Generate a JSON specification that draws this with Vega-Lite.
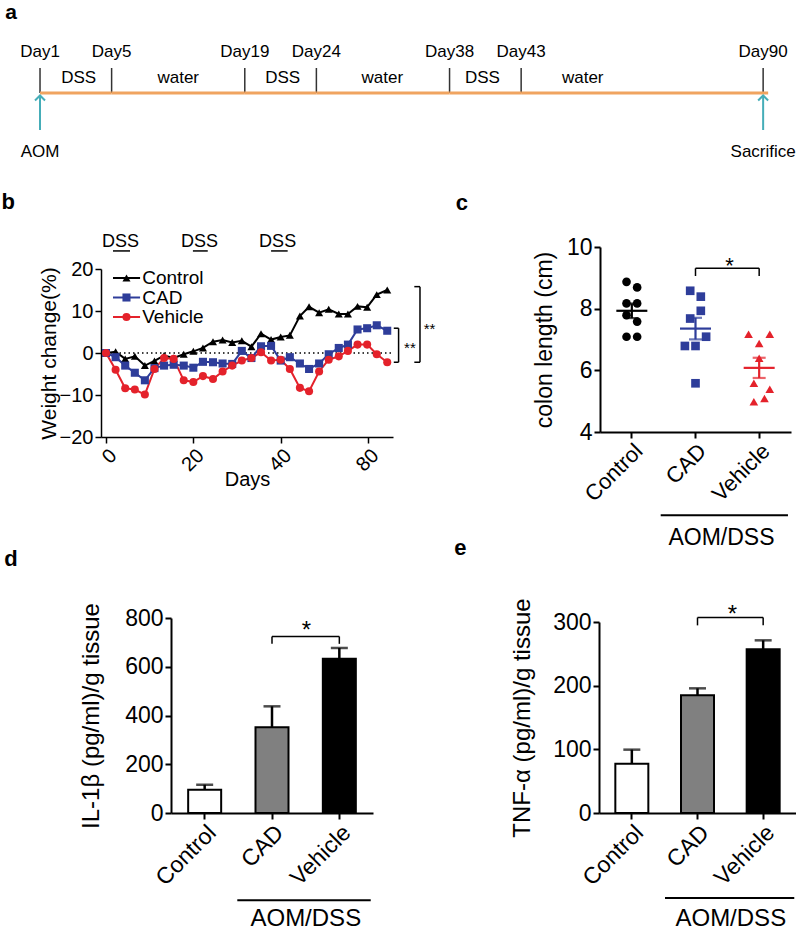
{
  "$schema": "https://vega.github.io/schema/vega-lite/v6.json",
  "padding": 0,
  "background": "white",
  "config": {
    "font": "Liberation Sans",
    "view": {"stroke": null},
    "axis": {"domainColor": "black", "tickColor": "black", "labelColor": "black", "titleColor": "black", "titleFontWeight": "normal", "grid": false, "domainWidth": 2, "tickWidth": 2, "tickSize": 6, "labelPadding": 2}
  },
  "datasets": {
    "timeline_days": [
      {"day": "Day1", "pos": 0}, {"day": "Day5", "pos": 1}, {"day": "Day19", "pos": 2.86}, {"day": "Day24", "pos": 3.86},
      {"day": "Day38", "pos": 5.72}, {"day": "Day43", "pos": 6.72}, {"day": "Day90", "pos": 10.1}
    ],
    "timeline_phases": [
      {"phase": "DSS", "from": 0, "to": 1, "mid": 0.54},
      {"phase": "water", "from": 1, "to": 2.86, "mid": 1.93},
      {"phase": "DSS", "from": 2.86, "to": 3.86, "mid": 3.39},
      {"phase": "water", "from": 3.86, "to": 5.72, "mid": 4.78},
      {"phase": "DSS", "from": 5.72, "to": 6.72, "mid": 6.18},
      {"phase": "water", "from": 6.72, "to": 10.17, "mid": 7.58}
    ],
    "timeline_events": [{"event": "AOM", "pos": 0}, {"event": "Sacrifice", "pos": 10.1}],
    "groups": [{"group": "Control"}, {"group": "CAD"}, {"group": "Vehicle"}],
    "weight": [
      {"day": 0, "Control": 0, "CAD": 0, "Vehicle": 0},
      {"day": 2.2, "Control": 0.3, "CAD": -1.0, "Vehicle": -4.0},
      {"day": 4.4, "Control": -1.4, "CAD": -3.0, "Vehicle": -8.4},
      {"day": 6.6, "Control": -0.8, "CAD": -4.7, "Vehicle": -8.7},
      {"day": 8.9, "Control": -3.0, "CAD": -6.5, "Vehicle": -9.9},
      {"day": 11.1, "Control": -1.9, "CAD": -3.6, "Vehicle": -3.8},
      {"day": 13.3, "Control": -0.6, "CAD": -3.0, "Vehicle": -1.2},
      {"day": 15.5, "Control": -1.2, "CAD": -2.8, "Vehicle": -1.4},
      {"day": 17.8, "Control": -0.3, "CAD": -3.0, "Vehicle": -6.5},
      {"day": 20.0, "Control": 0.4, "CAD": -3.5, "Vehicle": -6.9},
      {"day": 22.2, "Control": 1.2, "CAD": -2.1, "Vehicle": -5.5},
      {"day": 24.5, "Control": 2.7, "CAD": -2.2, "Vehicle": -6.2},
      {"day": 26.7, "Control": 3.1, "CAD": -2.5, "Vehicle": -4.4},
      {"day": 28.9, "Control": 2.5, "CAD": -2.6, "Vehicle": -3.0},
      {"day": 31.1, "Control": 2.9, "CAD": 0.5, "Vehicle": -1.8},
      {"day": 33.3, "Control": 1.5, "CAD": -1.2, "Vehicle": -1.2},
      {"day": 35.5, "Control": 4.6, "CAD": 1.6, "Vehicle": 0.2},
      {"day": 37.8, "Control": 3.2, "CAD": 1.7, "Vehicle": -1.8},
      {"day": 40.0, "Control": 3.8, "CAD": -1.8, "Vehicle": -1.6},
      {"day": 42.1, "Control": 4.2, "CAD": -1.0, "Vehicle": -3.8},
      {"day": 44.4, "Control": 8.8, "CAD": -2.5, "Vehicle": -8.3},
      {"day": 46.5, "Control": 11.0, "CAD": -3.8, "Vehicle": -9.1},
      {"day": 48.8, "Control": 9.6, "CAD": -2.5, "Vehicle": -4.4},
      {"day": 51.0, "Control": 10.4, "CAD": -0.3, "Vehicle": -1.6},
      {"day": 53.3, "Control": 9.3, "CAD": 1.2, "Vehicle": -0.8},
      {"day": 55.4, "Control": 9.3, "CAD": 2.0, "Vehicle": 0.5},
      {"day": 57.6, "Control": 11.1, "CAD": 5.6, "Vehicle": 2.0},
      {"day": 59.8, "Control": 10.9, "CAD": 5.9, "Vehicle": 2.0},
      {"day": 62.0, "Control": 13.9, "CAD": 6.6, "Vehicle": -0.3},
      {"day": 64.4, "Control": 15.0, "CAD": 5.3, "Vehicle": -2.2}
    ],
    "dss_periods": [
      {"label": "DSS", "start": 1.6, "end": 5.5, "mid": 3.3},
      {"label": "DSS", "start": 19.9, "end": 23.3, "mid": 21.4},
      {"label": "DSS", "start": 37.8, "end": 41.6, "mid": 39.3}
    ],
    "colon": [
      {"group": "Control", "length": 8.87, "slot": -1}, {"group": "Control", "length": 8.69, "slot": 1},
      {"group": "Control", "length": 8.17, "slot": -1}, {"group": "Control", "length": 8.17, "slot": 1},
      {"group": "Control", "length": 7.79, "slot": -1}, {"group": "Control", "length": 7.58, "slot": 1},
      {"group": "Control", "length": 7.09, "slot": -1}, {"group": "Control", "length": 7.09, "slot": 1},
      {"group": "CAD", "length": 8.58, "slot": -1}, {"group": "CAD", "length": 8.39, "slot": 1},
      {"group": "CAD", "length": 7.93, "slot": 1}, {"group": "CAD", "length": 7.68, "slot": -1},
      {"group": "CAD", "length": 7.09, "slot": 2}, {"group": "CAD", "length": 6.79, "slot": -2},
      {"group": "CAD", "length": 6.79, "slot": 0}, {"group": "CAD", "length": 5.58, "slot": 0},
      {"group": "Vehicle", "length": 7.17, "slot": -2}, {"group": "Vehicle", "length": 7.17, "slot": 2},
      {"group": "Vehicle", "length": 6.87, "slot": 0}, {"group": "Vehicle", "length": 6.39, "slot": 0},
      {"group": "Vehicle", "length": 5.58, "slot": -1}, {"group": "Vehicle", "length": 5.39, "slot": 2},
      {"group": "Vehicle", "length": 5.09, "slot": 1}, {"group": "Vehicle", "length": 4.98, "slot": -1}
    ],
    "il1b": [
      {"group": "Control", "mean": 95.7, "upper": 116},
      {"group": "CAD", "mean": 351.5, "upper": 437.6},
      {"group": "Vehicle", "mean": 633, "upper": 677}
    ],
    "tnf": [
      {"group": "Control", "mean": 77.5, "upper": 99.5},
      {"group": "CAD", "mean": 184.8, "upper": 195.8},
      {"group": "Vehicle", "mean": 257.1, "upper": 271.2}
    ]
  },
  "bounds": "flush",
  "spacing": 0,
  "resolve": {"scale": {"color": "independent", "shape": "independent", "fill": "independent"}},
  "vconcat": [
    {
      "width": 795,
      "height": 247,
      "layer": [
        {
          "data": {"name": "timeline_days"},
          "mark": {"type": "rule", "color": "#333333", "strokeWidth": 1.5},
          "encoding": {
            "x": {"field": "pos", "type": "quantitative", "scale": {"domain": [-0.559, 10.545], "nice": false, "zero": false}, "axis": null},
            "y": {"datum": 0, "type": "quantitative", "scale": {"domain": [-15.4, 9.3], "nice": false, "zero": false}, "axis": null},
            "y2": {"datum": 2.5}
          }
        },
        {
          "data": {"name": "timeline_phases"},
          "mark": {"type": "rule", "color": "#F0A460", "strokeWidth": 3},
          "encoding": {
            "x": {"field": "from", "type": "quantitative"},
            "x2": {"field": "to"},
            "y": {"datum": 0}
          }
        },
        {
          "data": {"name": "timeline_days"},
          "mark": {"type": "text", "fontSize": 17, "align": "center", "baseline": "alphabetic", "color": "black"},
          "encoding": {
            "x": {"field": "pos", "type": "quantitative"},
            "y": {"datum": 3.6},
            "text": {"field": "day"}
          }
        },
        {
          "data": {"name": "timeline_phases"},
          "mark": {"type": "text", "fontSize": 17, "align": "center", "baseline": "alphabetic", "color": "black"},
          "encoding": {
            "x": {"field": "mid", "type": "quantitative"},
            "y": {"datum": 0.97},
            "text": {"field": "phase"}
          }
        },
        {
          "data": {"name": "timeline_events"},
          "mark": {"type": "rule", "color": "#45ADB8", "strokeWidth": 2},
          "encoding": {
            "x": {"field": "pos", "type": "quantitative"},
            "y": {"datum": -3.7},
            "y2": {"datum": -0.3}
          }
        },
        {
          "data": {"name": "timeline_events"},
          "mark": {"type": "point", "shape": "M-1,1L0,0L1,1", "filled": false, "size": 100, "strokeWidth": 2, "color": "#45ADB8", "opacity": 1},
          "encoding": {
            "x": {"field": "pos", "type": "quantitative"},
            "y": {"datum": -0.25}
          }
        },
        {
          "data": {"name": "timeline_events"},
          "mark": {"type": "text", "fontSize": 17, "align": "center", "baseline": "alphabetic", "color": "black"},
          "encoding": {
            "x": {"field": "pos", "type": "quantitative"},
            "y": {"datum": -6.4},
            "text": {"field": "event"}
          }
        },
        {
          "data": {"values": [{"letter": "a"}]},
          "mark": {"type": "text", "fontSize": 21, "fontWeight": "bold", "align": "center", "baseline": "alphabetic", "color": "black"},
          "encoding": {
            "x": {"datum": -0.405},
            "y": {"datum": 7.4},
            "text": {"field": "letter"}
          }
        }
      ]
    },
    {
      "bounds": "flush",
      "spacing": 0,
      "resolve": {"scale": {"color": "independent", "shape": "independent", "fill": "independent"}},
      "hconcat": [
        {"data": {"values": []}, "mark": "point", "width": 101, "height": 1},
        {
          "bounds": "flush",
          "spacing": 0,
          "resolve": {"scale": {"color": "independent", "shape": "independent", "fill": "independent"}},
          "vconcat": [
            {"data": {"values": []}, "mark": "point", "width": 1, "height": 22},
            {
              "width": 292,
              "height": 168,
              "resolve": {"scale": {"y": "independent"}, "axis": {"y": "independent"}},
              "layer": [
                {
                  "layer": [
                    {
                      "data": {"values": [{"ref": 0}]},
                      "mark": {"type": "rule", "color": "black", "strokeWidth": 1.5, "strokeDash": [1.5, 3]},
                      "encoding": {
                        "x": {"datum": 0},
                        "x2": {"datum": 65.4},
                        "y": {"field": "ref", "type": "quantitative"}
                      }
                    },
                    {
                      "data": {"name": "weight"},
                      "transform": [{"fold": ["Control", "CAD", "Vehicle"], "as": ["group", "change"]}],
                      "mark": {"type": "line", "strokeWidth": 2},
                      "encoding": {
                        "x": {
                          "field": "day", "type": "quantitative",
                          "scale": {"domain": [-1.145, 65.72], "nice": false, "zero": false},
                          "axis": {"title": "Days", "values": [0, 20, 40, 60], "labelExpr": "datum.value == 60 ? '80' : datum.label", "labelAngle": -45, "labelFontSize": 20, "titleFontSize": 20, "domainWidth": 1.5, "tickWidth": 1.5, "titlePadding": -5}
                        },
                        "y": {
                          "field": "change", "type": "quantitative",
                          "scale": {"domain": [-20, 20], "nice": false, "zero": false},
                          "axis": {"title": "Weight change(%)", "values": [-20, -10, 0, 10, 20], "labelFontSize": 20, "titleFontSize": 21, "domainWidth": 1.5, "tickWidth": 1.5, "titlePadding": 0}
                        },
                        "color": {"field": "group", "type": "nominal", "scale": {"domain": ["Control", "CAD", "Vehicle"], "range": ["#000000", "#2E3D9A", "#E4222B"]}, "legend": null}
                      }
                    },
                    {
                      "data": {"name": "weight"},
                      "transform": [{"fold": ["Control", "CAD", "Vehicle"], "as": ["group", "change"]}],
                      "mark": {"type": "point", "filled": true, "size": 65, "opacity": 1},
                      "encoding": {
                        "x": {"field": "day", "type": "quantitative"},
                        "y": {"field": "change", "type": "quantitative"},
                        "color": {"field": "group", "type": "nominal", "legend": null},
                        "shape": {"field": "group", "type": "nominal", "scale": {"domain": ["Control", "CAD", "Vehicle"], "range": ["triangle-up", "square", "circle"]}, "legend": null}
                      }
                    },
                    {
                      "data": {"name": "dss_periods"},
                      "mark": {"type": "text", "fontSize": 18, "align": "center", "baseline": "alphabetic", "color": "black"},
                      "encoding": {
                        "x": {"field": "mid", "type": "quantitative"},
                        "y": {"datum": 25.3},
                        "text": {"field": "label"}
                      }
                    },
                    {
                      "data": {"name": "dss_periods"},
                      "mark": {"type": "rule", "color": "black", "strokeWidth": 1.5},
                      "encoding": {
                        "x": {"field": "start", "type": "quantitative"},
                        "x2": {"field": "end"},
                        "y": {"datum": 24.3}
                      }
                    },
                    {
                      "data": {"values": [{"sig": "**"}]},
                      "mark": {"type": "rule", "color": "black", "strokeWidth": 1.5},
                      "encoding": {"x": {"datum": 71.9}, "y": {"datum": 15.8}, "y2": {"datum": -2.2}}
                    },
                    {
                      "data": {"values": [{"sig": "**"}]},
                      "mark": {"type": "rule", "color": "black", "strokeWidth": 1.5},
                      "encoding": {"x": {"datum": 70.6}, "x2": {"datum": 71.9}, "y": {"datum": 15.8}}
                    },
                    {
                      "data": {"values": [{"sig": "**"}]},
                      "mark": {"type": "rule", "color": "black", "strokeWidth": 1.5},
                      "encoding": {"x": {"datum": 70.6}, "x2": {"datum": 71.9}, "y": {"datum": -2.2}}
                    },
                    {
                      "data": {"values": [{"sig": "**"}]},
                      "mark": {"type": "rule", "color": "black", "strokeWidth": 1.5},
                      "encoding": {"x": {"datum": 67.0}, "y": {"datum": 5.9}, "y2": {"datum": -2.2}}
                    },
                    {
                      "data": {"values": [{"sig": "**"}]},
                      "mark": {"type": "rule", "color": "black", "strokeWidth": 1.5},
                      "encoding": {"x": {"datum": 65.9}, "x2": {"datum": 67.0}, "y": {"datum": 5.9}}
                    },
                    {
                      "data": {"values": [{"sig": "**"}]},
                      "mark": {"type": "rule", "color": "black", "strokeWidth": 1.5},
                      "encoding": {"x": {"datum": 65.9}, "x2": {"datum": 67.0}, "y": {"datum": -2.2}}
                    },
                    {
                      "data": {"values": [{"sig": "**"}]},
                      "mark": {"type": "text", "fontSize": 15, "align": "center", "baseline": "alphabetic", "color": "black"},
                      "encoding": {"x": {"datum": 69.6}, "y": {"datum": -0.07}, "text": {"field": "sig"}}
                    },
                    {
                      "data": {"values": [{"sig": "**"}]},
                      "mark": {"type": "text", "fontSize": 15, "align": "center", "baseline": "alphabetic", "color": "black"},
                      "encoding": {"x": {"datum": 74.1}, "y": {"datum": 4.45}, "text": {"field": "sig"}}
                    },
                    {
                      "data": {"values": [{"letter": "b"}]},
                      "mark": {"type": "text", "fontSize": 22, "fontWeight": "bold", "align": "center", "baseline": "alphabetic", "color": "black"},
                      "encoding": {"x": {"datum": -22.4}, "y": {"datum": 34.4}, "text": {"field": "letter"}}
                    }
                  ]
                },
                {
                  "data": {"name": "groups"},
                  "layer": [
                    {
                      "mark": {"type": "rule", "strokeWidth": 2},
                      "encoding": {
                        "x": {"datum": 1.6},
                        "x2": {"datum": 7.8},
                        "y": {"field": "group", "type": "nominal", "scale": {"type": "point", "domain": ["Control", "CAD", "Vehicle"], "range": [9, 48], "padding": 0}, "axis": null},
                        "color": {"field": "group", "type": "nominal", "legend": null}
                      }
                    },
                    {
                      "mark": {"type": "point", "filled": true, "size": 65, "opacity": 1},
                      "encoding": {
                        "x": {"datum": 4.69},
                        "y": {"field": "group", "type": "nominal"},
                        "color": {"field": "group", "type": "nominal", "legend": null},
                        "shape": {"field": "group", "type": "nominal", "legend": null}
                      }
                    },
                    {
                      "mark": {"type": "text", "fontSize": 19, "align": "left", "baseline": "middle", "color": "black"},
                      "encoding": {
                        "x": {"datum": 8.3},
                        "y": {"field": "group", "type": "nominal"},
                        "text": {"field": "group"}
                      }
                    }
                  ]
                }
              ]
            }
          ]
        },
        {"data": {"values": []}, "mark": "point", "width": 499, "height": 1},
        {
          "width": 191,
          "height": 185,
          "layer": [
            {
              "data": {"name": "colon"},
              "mark": {"type": "errorbar", "extent": "stderr", "ticks": {"size": 13, "thickness": 2.2}, "rule": {"strokeWidth": 2.2}},
              "encoding": {
                "x": {"field": "group", "type": "nominal", "scale": {"type": "band", "domain": ["Control", "CAD", "Vehicle"], "paddingInner": 0, "paddingOuter": 0}, "axis": {"title": null, "labelAngle": -45, "labelFontSize": 22}},
                "y": {"field": "length", "type": "quantitative", "scale": {"domain": [4, 10], "nice": false, "zero": false}, "axis": {"title": "colon length (cm)", "values": [4, 6, 8, 10], "labelFontSize": 23, "titleFontSize": 23, "titlePadding": 10}},
                "color": {"field": "group", "type": "nominal", "scale": {"domain": ["Control", "CAD", "Vehicle"], "range": ["#000000", "#2E3D9A", "#E4222B"]}, "legend": null}
              }
            },
            {
              "data": {"name": "colon"},
              "mark": {"type": "tick", "size": 31, "thickness": 2.2},
              "encoding": {
                "x": {"field": "group", "type": "nominal"},
                "y": {"aggregate": "mean", "field": "length", "type": "quantitative"},
                "color": {"field": "group", "type": "nominal", "legend": null}
              }
            },
            {
              "data": {"name": "colon"},
              "mark": {"type": "point", "filled": true, "size": 75, "opacity": 1},
              "encoding": {
                "x": {"field": "group", "type": "nominal"},
                "xOffset": {"field": "slot", "type": "quantitative", "scale": {"domain": [-6, 6]}},
                "y": {"field": "length", "type": "quantitative"},
                "color": {"field": "group", "type": "nominal", "legend": null},
                "shape": {"field": "group", "type": "nominal", "scale": {"domain": ["Control", "CAD", "Vehicle"], "range": ["circle", "square", "triangle-up"]}, "legend": null}
              }
            },
            {
              "data": {"values": [{"sig": "*"}]},
              "mark": {"type": "rule", "color": "black", "strokeWidth": 1.5},
              "encoding": {"x": {"datum": "CAD"}, "x2": {"datum": "Vehicle"}, "y": {"datum": 9.31}}
            },
            {
              "data": {"values": [{"sig": "*"}]},
              "mark": {"type": "rule", "color": "black", "strokeWidth": 1.5},
              "encoding": {"x": {"datum": "CAD"}, "y": {"datum": 9.31}, "y2": {"datum": 9.06}}
            },
            {
              "data": {"values": [{"sig": "*"}]},
              "mark": {"type": "rule", "color": "black", "strokeWidth": 1.5},
              "encoding": {"x": {"datum": "Vehicle"}, "y": {"datum": 9.31}, "y2": {"datum": 9.06}}
            },
            {
              "data": {"values": [{"sig": "*"}]},
              "mark": {"type": "text", "fontSize": 22, "align": "center", "baseline": "alphabetic", "dx": 34, "color": "black"},
              "encoding": {"x": {"datum": "CAD"}, "y": {"datum": 9.16}, "text": {"field": "sig"}}
            },
            {
              "data": {"values": [{"label": "AOM/DSS"}]},
              "mark": {"type": "rule", "color": "black", "strokeWidth": 1.8, "xOffset": -34.8, "x2Offset": 28.8},
              "encoding": {"x": {"datum": "CAD"}, "x2": {"datum": "Vehicle"}, "y": {"datum": 1.3}}
            },
            {
              "data": {"values": [{"label": "AOM/DSS"}]},
              "mark": {"type": "text", "fontSize": 23, "align": "center", "baseline": "alphabetic", "dx": 26, "color": "black"},
              "encoding": {"x": {"datum": "CAD"}, "y": {"datum": 0.335}, "text": {"field": "label"}}
            },
            {
              "data": {"values": [{"letter": "c"}]},
              "mark": {"type": "text", "fontSize": 22, "fontWeight": "bold", "align": "center", "baseline": "alphabetic", "dx": -170, "color": "black"},
              "encoding": {"x": {"datum": "Control"}, "y": {"datum": 11.2}, "text": {"field": "letter"}}
            }
          ]
        }
      ]
    },
    {"data": {"values": []}, "mark": "point", "width": 1, "height": 190},
    {
      "bounds": "flush",
      "spacing": 0,
      "resolve": {"scale": {"color": "independent", "shape": "independent", "fill": "independent"}},
      "hconcat": [
        {"data": {"values": []}, "mark": "point", "width": 171, "height": 1},
        {
          "bounds": "flush",
          "spacing": 0,
          "resolve": {"scale": {"color": "independent", "shape": "independent", "fill": "independent"}},
          "vconcat": [
            {"data": {"values": []}, "mark": "point", "width": 1, "height": 181},
            {
              "width": 202,
              "height": 195,
              "layer": [
                {
                  "data": {"name": "il1b"},
                  "mark": {"type": "rule", "color": "black", "strokeWidth": 2.5},
                  "encoding": {
                    "x": {"field": "group", "type": "nominal", "scale": {"type": "band", "domain": ["Control", "CAD", "Vehicle"], "paddingInner": 0, "paddingOuter": 0}, "axis": {"title": null, "labelAngle": -45, "labelFontSize": 23}},
                    "y": {"field": "mean", "type": "quantitative", "scale": {"domain": [0, 800], "nice": false, "zero": false}, "axis": {"title": "IL-1β (pg/ml)/g tissue", "values": [0, 200, 400, 600, 800], "labelFontSize": 23, "titleFontSize": 24, "titlePadding": 21}},
                    "y2": {"field": "upper"}
                  }
                },
                {
                  "data": {"name": "il1b"},
                  "mark": {"type": "tick", "color": "black", "size": 17, "thickness": 2.5},
                  "encoding": {
                    "x": {"field": "group", "type": "nominal"},
                    "y": {"field": "upper", "type": "quantitative"}
                  }
                },
                {
                  "data": {"name": "il1b"},
                  "mark": {"type": "bar", "size": 33, "stroke": "black", "strokeWidth": 2},
                  "encoding": {
                    "x": {"field": "group", "type": "nominal"},
                    "y": {"field": "mean", "type": "quantitative"},
                    "fill": {"field": "group", "type": "nominal", "scale": {"domain": ["Control", "CAD", "Vehicle"], "range": ["#FFFFFF", "#808080", "#000000"]}, "legend": null}
                  }
                },
                {
                  "data": {"values": [{"sig": "*"}]},
                  "mark": {"type": "rule", "color": "black", "strokeWidth": 1.5},
                  "encoding": {"x": {"datum": "CAD"}, "x2": {"datum": "Vehicle"}, "y": {"datum": 724}}
                },
                {
                  "data": {"values": [{"sig": "*"}]},
                  "mark": {"type": "rule", "color": "black", "strokeWidth": 1.5},
                  "encoding": {"x": {"datum": "CAD"}, "y": {"datum": 724}, "y2": {"datum": 694}}
                },
                {
                  "data": {"values": [{"sig": "*"}]},
                  "mark": {"type": "rule", "color": "black", "strokeWidth": 1.5},
                  "encoding": {"x": {"datum": "Vehicle"}, "y": {"datum": 724}, "y2": {"datum": 694}}
                },
                {
                  "data": {"values": [{"sig": "*"}]},
                  "mark": {"type": "text", "fontSize": 24, "align": "center", "baseline": "alphabetic", "dx": 34.5, "color": "black"},
                  "encoding": {"x": {"datum": "CAD"}, "y": {"datum": 716.7}, "text": {"field": "sig"}}
                },
                {
                  "data": {"values": [{"label": "AOM/DSS"}]},
                  "mark": {"type": "rule", "color": "black", "strokeWidth": 1.8, "xOffset": -34.7, "x2Offset": 31.4},
                  "encoding": {"x": {"datum": "CAD"}, "x2": {"datum": "Vehicle"}, "y": {"datum": -358}}
                },
                {
                  "data": {"values": [{"label": "AOM/DSS"}]},
                  "mark": {"type": "text", "fontSize": 24, "align": "center", "baseline": "alphabetic", "dx": 33.8, "color": "black"},
                  "encoding": {"x": {"datum": "CAD"}, "y": {"datum": -462}, "text": {"field": "label"}}
                },
                {
                  "data": {"values": [{"letter": "d"}]},
                  "mark": {"type": "text", "fontSize": 22, "fontWeight": "bold", "align": "center", "baseline": "alphabetic", "dx": -193.7, "color": "black"},
                  "encoding": {"x": {"datum": "Control"}, "y": {"datum": 1014.6}, "text": {"field": "letter"}}
                }
              ]
            }
          ]
        },
        {"data": {"values": []}, "mark": "point", "width": 428, "height": 1},
        {
          "bounds": "flush",
          "spacing": 0,
          "resolve": {"scale": {"color": "independent", "shape": "independent", "fill": "independent"}},
          "vconcat": [
            {"data": {"values": []}, "mark": "point", "width": 1, "height": 185},
            {
              "width": 197,
              "height": 191,
              "layer": [
                {
                  "data": {"name": "tnf"},
                  "mark": {"type": "rule", "color": "black", "strokeWidth": 2.5},
                  "encoding": {
                    "x": {"field": "group", "type": "nominal", "scale": {"type": "band", "domain": ["Control", "CAD", "Vehicle"], "paddingInner": 0, "paddingOuter": 0}, "axis": {"title": null, "labelAngle": -45, "labelFontSize": 23}},
                    "y": {"field": "mean", "type": "quantitative", "scale": {"domain": [0, 300], "nice": false, "zero": false}, "axis": {"title": "TNF-α (pg/ml)/g tissue", "values": [0, 100, 200, 300], "labelFontSize": 23, "titleFontSize": 24, "titlePadding": 18}},
                    "y2": {"field": "upper"}
                  }
                },
                {
                  "data": {"name": "tnf"},
                  "mark": {"type": "tick", "color": "black", "size": 17, "thickness": 2.5},
                  "encoding": {
                    "x": {"field": "group", "type": "nominal"},
                    "y": {"field": "upper", "type": "quantitative"}
                  }
                },
                {
                  "data": {"name": "tnf"},
                  "mark": {"type": "bar", "size": 33, "stroke": "black", "strokeWidth": 2},
                  "encoding": {
                    "x": {"field": "group", "type": "nominal"},
                    "y": {"field": "mean", "type": "quantitative"},
                    "fill": {"field": "group", "type": "nominal", "scale": {"domain": ["Control", "CAD", "Vehicle"], "range": ["#FFFFFF", "#808080", "#000000"]}, "legend": null}
                  }
                },
                {
                  "data": {"values": [{"sig": "*"}]},
                  "mark": {"type": "rule", "color": "black", "strokeWidth": 1.5},
                  "encoding": {"x": {"datum": "CAD"}, "x2": {"datum": "Vehicle"}, "y": {"datum": 307}}
                },
                {
                  "data": {"values": [{"sig": "*"}]},
                  "mark": {"type": "rule", "color": "black", "strokeWidth": 1.5},
                  "encoding": {"x": {"datum": "CAD"}, "y": {"datum": 307}, "y2": {"datum": 294.7}}
                },
                {
                  "data": {"values": [{"sig": "*"}]},
                  "mark": {"type": "rule", "color": "black", "strokeWidth": 1.5},
                  "encoding": {"x": {"datum": "Vehicle"}, "y": {"datum": 307}, "y2": {"datum": 294.7}}
                },
                {
                  "data": {"values": [{"sig": "*"}]},
                  "mark": {"type": "text", "fontSize": 24, "align": "center", "baseline": "alphabetic", "dx": 35, "color": "black"},
                  "encoding": {"x": {"datum": "CAD"}, "y": {"datum": 300.5}, "text": {"field": "sig"}}
                },
                {
                  "data": {"values": [{"label": "AOM/DSS"}]},
                  "mark": {"type": "rule", "color": "black", "strokeWidth": 1.8, "xOffset": -32.5, "x2Offset": 31.1},
                  "encoding": {"x": {"datum": "CAD"}, "x2": {"datum": "Vehicle"}, "y": {"datum": -133.5}}
                },
                {
                  "data": {"values": [{"label": "AOM/DSS"}]},
                  "mark": {"type": "text", "fontSize": 24, "align": "center", "baseline": "alphabetic", "dx": 33.3, "color": "black"},
                  "encoding": {"x": {"datum": "CAD"}, "y": {"datum": -177}, "text": {"field": "label"}}
                },
                {
                  "data": {"values": [{"letter": "e"}]},
                  "mark": {"type": "text", "fontSize": 22, "fontWeight": "bold", "align": "center", "baseline": "alphabetic", "dx": -171.5, "color": "black"},
                  "encoding": {"x": {"datum": "Control"}, "y": {"datum": 405.7}, "text": {"field": "letter"}}
                }
              ]
            }
          ]
        }
      ]
    }
  ]
}
